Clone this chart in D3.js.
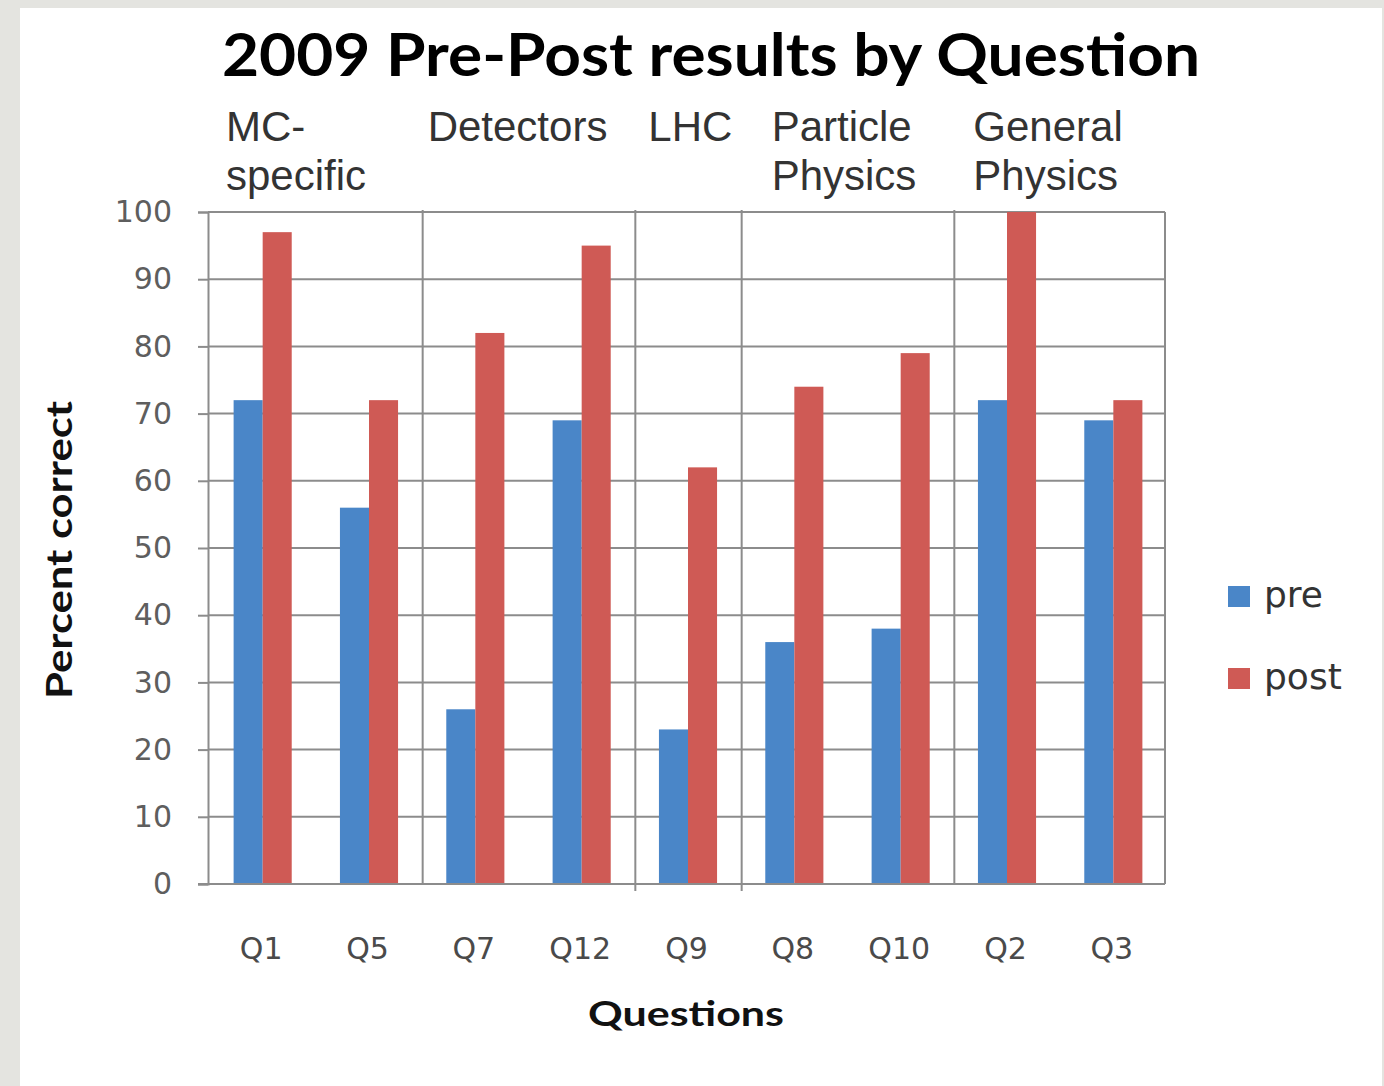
<!DOCTYPE html>
<html>
<head>
<meta charset="utf-8">
<script src="https://cdn.jsdelivr.net/npm/d3@7"></script>
<style>
  html, body { margin: 0; padding: 0; background: #e4e4e0; }
  svg { display: block; }
</style>
</head>
<body>
<svg id="chart" width="1384" height="1086"></svg>
<script>
// ---- data ----
const categories = ["Q1", "Q5", "Q7", "Q12", "Q9", "Q8", "Q10", "Q2", "Q3"];
const seriesNames = ["pre", "post"];
const preValues  = [72, 56, 26, 69, 23, 36, 38, 72, 69];
const postValues = [97, 72, 82, 95, 62, 74, 79, 100, 72];
const yTicks = [0, 10, 20, 30, 40, 50, 60, 70, 80, 90, 100];
const groupLabels = [["MC-", "specific"], ["Detectors"], ["LHC"], ["Particle", "Physics"], ["General", "Physics"]];
const groupStarts = [0, 2, 4, 5, 7];   // index of first question in each group
const titleText = "2009 Pre-Post results by Question";
const yTitle = "Percent correct";
const xTitle = "Questions";

// ---- layout ----
const W = 1384, H = 1086;
const plot = { left: 208, right: 1165, top: 212, bottom: 884 };
const groupLabelOffsets = [18, 7, 15, 32, 21];
const dividerExtend = [0, 7, 7, 0];   // extra length below axis for each divider
const colors = { pre: "#4a86c8", post: "#cf5a55" };
const gridColor = "#8c8c8c";

const svg = d3.select("#chart");

// background + panel
svg.append("rect").attr("width", W).attr("height", H).attr("fill", "#e4e4e0");
svg.append("rect").attr("x", 20).attr("y", 8).attr("width", 1362).attr("height", H - 8).attr("fill", "#ffffff");

const x = d3.scaleBand().domain(categories).range([plot.left, plot.right]).padding(0);
const xSub = d3.scaleBand().domain(seriesNames).range([0, x.bandwidth()]).paddingInner(0).paddingOuter(0.83);
const y = d3.scaleLinear().domain([0, 100]).range([plot.bottom, plot.top]);

// horizontal gridlines
svg.append("g").selectAll("line").data(yTicks).join("line")
  .attr("x1", plot.left).attr("x2", plot.right)
  .attr("y1", d => y(d)).attr("y2", d => y(d))
  .attr("stroke", gridColor).attr("stroke-width", 2);

// group divider lines
svg.append("g").selectAll("line").data(groupStarts.slice(1)).join("line")
  .attr("x1", i => x(categories[i]) + 2).attr("x2", i => x(categories[i]) + 2)
  .attr("y1", plot.top - 2).attr("y2", (i, k) => plot.bottom + dividerExtend[k])
  .attr("stroke", gridColor).attr("stroke-width", 2);

// right border
svg.append("line")
  .attr("x1", plot.right).attr("x2", plot.right)
  .attr("y1", plot.top).attr("y2", plot.bottom)
  .attr("stroke", gridColor).attr("stroke-width", 2);

// bars
const rows = categories.map((c, i) => ({ cat: c, pre: preValues[i], post: postValues[i] }));
const gBars = svg.append("g");
gBars.selectAll("g").data(rows).join("g")
  .attr("transform", d => `translate(${x(d.cat) + 1.5},0)`)
  .selectAll("rect")
  .data(d => seriesNames.map(s => ({ s, v: d[s] })))
  .join("rect")
  .attr("x", d => xSub(d.s))
  .attr("width", xSub.bandwidth())
  .attr("y", d => y(d.v))
  .attr("height", d => y(0) - y(d.v))
  .attr("fill", d => colors[d.s]);

// y axis
const yAxis = d3.axisLeft(y).tickValues(yTicks).tickSize(10).tickPadding(26);
const gy = svg.append("g").attr("transform", `translate(${plot.left},0)`).call(yAxis);
gy.select(".domain").attr("stroke", gridColor).attr("stroke-width", 2);
gy.selectAll(".tick line").attr("stroke", gridColor).attr("stroke-width", 2);
gy.selectAll(".tick text")
  .attr("font-family", "'DejaVu Sans', sans-serif").attr("font-size", 30)
  .attr("fill", "#5e5e5e");

// x axis (labels only)
const xAxis = d3.axisBottom(x).tickSize(0).tickPadding(0);
const gx = svg.append("g").attr("transform", `translate(0,${plot.bottom})`).call(xAxis);
gx.select(".domain").remove();
gx.selectAll(".tick text")
  .attr("font-family", "'DejaVu Sans', sans-serif").attr("font-size", 30)
  .attr("fill", "#4a4a4a").attr("dy", null).attr("y", 75);

// zero baseline on top
svg.append("line")
  .attr("x1", plot.left - 10).attr("x2", plot.right)
  .attr("y1", y(0)).attr("y2", y(0))
  .attr("stroke", gridColor).attr("stroke-width", 2);

// title
svg.append("text")
  .attr("x", 222).attr("y", 76)
  .attr("font-family", "Lato, 'Open Sans', sans-serif").attr("font-weight", 700)
  .attr("font-size", 60).attr("fill", "#000")
  .attr("textLength", 978).attr("lengthAdjust", "spacingAndGlyphs")
  .text(titleText);

// group labels
const gl = svg.append("g");
groupLabels.forEach((lines, k) => {
  const t = gl.append("text")
    .attr("x", x(categories[groupStarts[k]]) + groupLabelOffsets[k])
    .attr("y", 141)
    .attr("font-family", "'Liberation Sans', Arial, sans-serif")
    .attr("font-size", 42).attr("fill", "#333");
  lines.forEach((ln, j) => {
    t.append("tspan").attr("x", x(categories[groupStarts[k]]) + groupLabelOffsets[k])
      .attr("dy", j === 0 ? 0 : 49).text(ln);
  });
});

// axis titles
svg.append("text")
  .attr("transform", `translate(72,550) rotate(-90)`)
  .attr("text-anchor", "middle")
  .attr("font-family", "Lato, 'Open Sans', sans-serif").attr("font-weight", 700)
  .attr("font-size", 36).attr("fill", "#111")
  .attr("textLength", 298).attr("lengthAdjust", "spacingAndGlyphs")
  .text(yTitle);

svg.append("text")
  .attr("x", 686).attr("y", 1026)
  .attr("text-anchor", "middle")
  .attr("font-family", "Lato, 'Open Sans', sans-serif").attr("font-weight", 700)
  .attr("font-size", 34).attr("fill", "#111")
  .attr("textLength", 196).attr("lengthAdjust", "spacingAndGlyphs")
  .text(xTitle);

// legend
const legend = svg.append("g");
seriesNames.forEach((s, i) => {
  const cy = 596 + i * 82;
  legend.append("rect").attr("x", 1228).attr("y", cy - 10).attr("width", 22).attr("height", 21).attr("fill", colors[s]);
  legend.append("text").attr("x", 1264).attr("y", cy + 11)
    .attr("font-family", "'DejaVu Sans', sans-serif").attr("font-size", 36)
    .attr("fill", "#333").text(s);
});
</script>
</body>
</html>
